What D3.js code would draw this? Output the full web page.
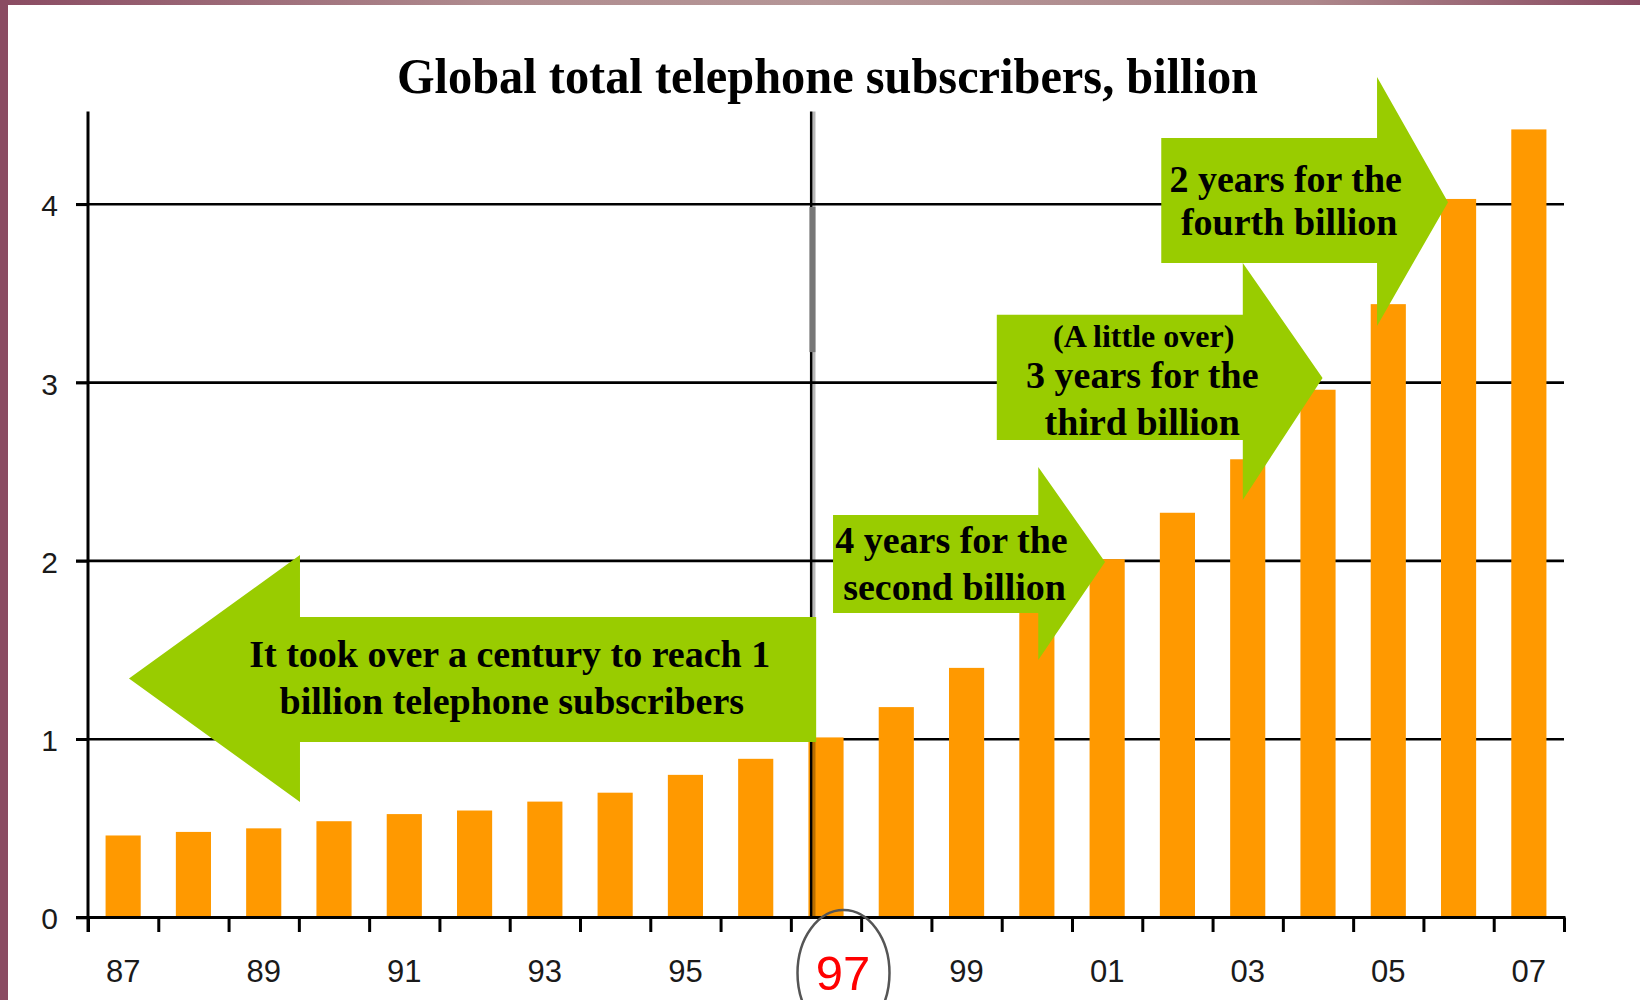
<!DOCTYPE html>
<html>
<head>
<meta charset="utf-8">
<script src="https://cdn.jsdelivr.net/npm/d3@7"></script>
<style>
  html, body { margin: 0; padding: 0; background: #fff; }
  svg { display: block; }
</style>
</head>
<body>
<svg id="chart" width="1640" height="1000"></svg>
<script>
// ---------- data ----------
const years = ['87','88','89','90','91','92','93','94','95','96','97','98','99','00','01','02','03','04','05','06','07'];
const subscribers = [0.46, 0.48, 0.50, 0.54, 0.58, 0.60, 0.65, 0.70, 0.80, 0.89, 1.01, 1.18, 1.40, 1.72, 2.01, 2.27, 2.57, 2.96, 3.44, 4.03, 4.42];
const xTickLabels = ['87','89','91','93','95','97','99','01','03','05','07'];
const yTickValues = [0, 1, 2, 3, 4];
const highlightYear = '97';
const titleText = 'Global total telephone subscribers, billion';
const arrowTexts = [
  ['It took over a century to reach 1', 'billion telephone subscribers'],
  ['4 years for the', 'second billion'],
  ['(A little over)', '3 years for the', 'third billion'],
  ['2 years for the', 'fourth billion']
];

// ---------- layout ----------
const W = 1640, H = 1000;
const plotLeft = 88, plotRight = 1564;
const svg = d3.select('#chart');

const x = d3.scaleBand().domain(years).range([plotLeft, plotRight]).paddingInner(0.5).paddingOuter(0.25);
const u = d3.scaleLinear().domain([0, years.length]).range([plotLeft, plotRight]); // year-index units
const y = d3.scaleLinear().domain([0, 4]).range([917.5, 204.3]);
const yTop = 4.52;

// ---------- frame ----------
const defs = svg.append('defs');
const grad = defs.append('linearGradient').attr('id', 'topbar').attr('x1', '0%').attr('x2', '100%');
grad.append('stop').attr('offset', '0%').attr('stop-color', '#8a4b62');
grad.append('stop').attr('offset', '30%').attr('stop-color', '#b08c8f');
grad.append('stop').attr('offset', '50%').attr('stop-color', '#b59697');
grad.append('stop').attr('offset', '80%').attr('stop-color', '#ad878b');
grad.append('stop').attr('offset', '100%').attr('stop-color', '#8a4b62');
svg.append('rect').attr('x', 0).attr('y', 0).attr('width', W).attr('height', 5).attr('fill', 'url(#topbar)');
svg.append('rect').attr('x', 0).attr('y', 0).attr('width', 8).attr('height', H).attr('fill', '#8a4b62');

// ---------- title ----------
svg.append('text')
  .attr('x', 827.5).attr('y', 93)
  .attr('text-anchor', 'middle')
  .attr('font-family', '"Liberation Serif", "Times New Roman", serif')
  .attr('font-weight', 'bold')
  .attr('font-size', 51)
  .attr('textLength', 861).attr('lengthAdjust', 'spacingAndGlyphs')
  .attr('fill', '#000')
  .text(titleText);

// ---------- gridlines ----------
svg.append('g').selectAll('line.grid')
  .data(yTickValues.filter(v => v > 0))
  .join('line')
  .attr('x1', plotLeft - 12).attr('x2', plotRight)
  .attr('y1', d => y(d)).attr('y2', d => y(d))
  .attr('stroke', '#000').attr('stroke-width', 2.6);

// ---------- bars ----------
const rows = years.map((yr, i) => ({ yr, v: subscribers[i] }));
svg.append('g').selectAll('rect.bar')
  .data(rows)
  .join('rect')
  .attr('class', 'bar')
  .attr('x', d => x(d.yr))
  .attr('width', x.bandwidth())
  .attr('y', d => y(d.v))
  .attr('height', d => y(0) - y(d.v))
  .attr('fill', '#ff9900');

// ---------- y axis ----------
const yAxis = d3.axisLeft(y).tickValues(yTickValues).tickSize(12).tickPadding(18).tickFormat(d3.format('d'));
const yg = svg.append('g').attr('transform', `translate(${plotLeft},0)`).call(yAxis);
yg.select('.domain').remove();
yg.selectAll('.tick line').attr('stroke', '#000').attr('stroke-width', 2.6);
yg.selectAll('.tick text')
  .attr('font-family', '"Liberation Sans", Arial, sans-serif')
  .attr('font-size', 30)
  .attr('fill', '#1a1a1a')
  .attr('dy', '0.38em');
svg.append('line')
  .attr('x1', plotLeft).attr('x2', plotLeft)
  .attr('y1', y(yTop)).attr('y2', y(0) + 14.5)
  .attr('stroke', '#000').attr('stroke-width', 3);

// ---------- x axis ----------
const xAxis = d3.axisBottom(u).tickValues(d3.range(0, years.length + 1)).tickSize(14.5).tickSizeOuter(0).tickFormat('');
const xg = svg.append('g').attr('transform', `translate(0,${y(0)})`).call(xAxis);
xg.select('.domain').remove();
xg.selectAll('.tick line').attr('stroke', '#000').attr('stroke-width', 3);
svg.append('line')
  .attr('x1', plotLeft - 12).attr('x2', plotRight + 1.5)
  .attr('y1', y(0)).attr('y2', y(0))
  .attr('stroke', '#000').attr('stroke-width', 3);

// x labels
svg.append('g').selectAll('text.xl')
  .data(xTickLabels)
  .join('text')
  .attr('x', d => x(d) + x.bandwidth() / 2 + (d === highlightYear ? 17 : 0))
  .attr('y', d => d === highlightYear ? 990 : 982)
  .attr('text-anchor', 'middle')
  .attr('font-family', '"Liberation Sans", Arial, sans-serif')
  .attr('font-size', d => d === highlightYear ? 49 : 31)
  .attr('fill', d => d === highlightYear ? '#ff0000' : '#1a1a1a')
  .text(d => d);

// highlight ellipse around 97
svg.append('ellipse')
  .attr('cx', x(highlightYear) + x.bandwidth() / 2 + 17.5)
  .attr('cy', 973)
  .attr('rx', 46).attr('ry', 63)
  .attr('fill', 'none')
  .attr('stroke', '#555').attr('stroke-width', 2.5);

// ---------- 1997 marker line ----------
const markU = 10.29;
svg.append('line')
  .attr('x1', u(markU) + 3).attr('x2', u(markU) + 3)
  .attr('y1', y(yTop)).attr('y2', y(0))
  .attr('stroke', '#000').attr('stroke-opacity', 0.28).attr('stroke-width', 2.5);
svg.append('line')
  .attr('x1', u(markU)).attr('x2', u(markU))
  .attr('y1', y(yTop)).attr('y2', y(0))
  .attr('stroke', '#000').attr('stroke-width', 2.6);
svg.append('rect')
  .attr('x', u(markU) - 1.8).attr('width', 6)
  .attr('y', y(3.985)).attr('height', y(3.171) - y(3.985))
  .attr('fill', '#777');

// ---------- arrows ----------
const arrowGeo = [
  { tail: 10.36, base: 3.016, tipU: 0.583, tipV: 1.34,  bodyTop: 1.685, bodyBot: 0.984, headTop: 2.033, headBot: 0.648 },
  { tail: 10.6,  base: 13.52, tipU: 14.47, tipV: 1.994, bodyTop: 2.258, bodyBot: 1.708, headTop: 2.527, headBot: 1.444 },
  { tail: 12.93, base: 16.43, tipU: 17.565, tipV: 3.026, bodyTop: 3.38, bodyBot: 2.678, headTop: 3.671, headBot: 2.342 },
  { tail: 15.27, base: 18.34, tipU: 19.35, tipV: 4.012, bodyTop: 4.372, bodyBot: 3.671, headTop: 4.714, headBot: 3.318 }
];
const line = d3.line().x(p => u(p[0])).y(p => y(p[1]));
const ag = svg.append('g');
arrowGeo.forEach(a => {
  const pts = [
    [a.tail, a.bodyTop], [a.base, a.bodyTop], [a.base, a.headTop],
    [a.tipU, a.tipV], [a.base, a.headBot], [a.base, a.bodyBot], [a.tail, a.bodyBot]
  ];
  ag.append('path').attr('d', line(pts) + 'Z').attr('fill', '#99cc00');
});

// arrow texts: [centerU, baselineV, fontSize]
const textPos = [
  [[6.0, 1.405, 38], [6.03, 1.141, 38]],
  [[12.285, 2.044, 38], [12.33, 1.781, 38]],
  [[15.02, 3.2, 32], [15.0, 2.97, 38], [15.0, 2.706, 38]],
  [[17.04, 4.069, 38], [17.09, 3.828, 38]]
];
const tg = svg.append('g')
  .attr('font-family', '"Liberation Serif", "Times New Roman", serif')
  .attr('font-weight', 'bold')
  .attr('fill', '#000')
  .attr('text-anchor', 'middle');
arrowTexts.forEach((lines, i) => {
  lines.forEach((t, j) => {
    const p = textPos[i][j];
    tg.append('text').attr('x', u(p[0])).attr('y', y(p[1])).attr('font-size', p[2]).text(t);
  });
});
</script>
</body>
</html>
